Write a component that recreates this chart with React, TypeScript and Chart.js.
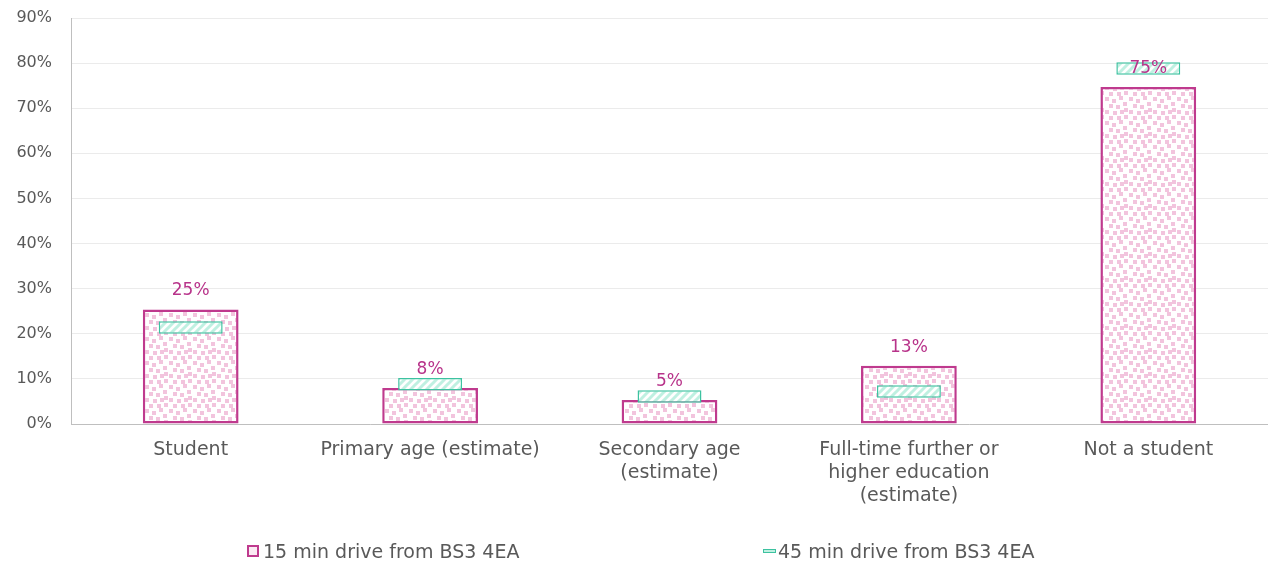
import React, { useEffect, useRef } from "react";
import { Chart, registerables } from "chart.js";

Chart.register(...registerables);

const categories: (string | string[])[] = [
  "Student",
  "Primary age (estimate)",
  ["Secondary age", "(estimate)"],
  ["Full-time further or", "higher education", "(estimate)"],
  "Not a student",
];
const series15: number[] = [25.4, 8.0, 5.3, 12.9, 74.7];
const series45: number[] = [21.4, 8.8, 6.1, 7.2, 78.8];
const seriesNames = ["15 min drive from BS3 4EA", "45 min drive from BS3 4EA"];
const yTicks: number[] = [0, 10, 20, 30, 40, 50, 60, 70, 80, 90];

const FONT = "'DejaVu Sans', sans-serif";
const GREY = "#595959";
const PINK = "#BF3A8E";
const PINK_LIGHT = "#F2C4DD";
const TEAL = "#3DC2A0";
const TEAL_LIGHT = "#BFF0E1";

function makeConfetti(): CanvasPattern | string {
  const c = document.createElement("canvas");
  c.width = 24;
  c.height = 24;
  const ctx = c.getContext("2d");
  if (!ctx) return PINK_LIGHT;
  ctx.fillStyle = "#ffffff";
  ctx.fillRect(0, 0, 24, 24);
  ctx.fillStyle = PINK_LIGHT;
  const spots = [
    [1, 1], [8, 3], [15, 0], [5, 8], [12, 9], [19, 6], [1, 14], [9, 15],
    [16, 14], [5, 20], [13, 20], [20, 12], [20, 19],
  ];
  spots.forEach(([x, y]) => ctx.fillRect(x, y, 4, 4));
  const p = ctx.createPattern(c, "repeat");
  return p || PINK_LIGHT;
}

function makeHatch(): CanvasPattern | string {
  const c = document.createElement("canvas");
  c.width = 8;
  c.height = 8;
  const ctx = c.getContext("2d");
  if (!ctx) return TEAL_LIGHT;
  ctx.fillStyle = "#ffffff";
  ctx.fillRect(0, 0, 8, 8);
  ctx.strokeStyle = TEAL_LIGHT;
  ctx.lineWidth = 3;
  ctx.beginPath();
  ctx.moveTo(-2, 10);
  ctx.lineTo(10, -2);
  ctx.moveTo(-6, 6);
  ctx.lineTo(6, -6);
  ctx.moveTo(2, 14);
  ctx.lineTo(14, 2);
  ctx.stroke();
  const p = ctx.createPattern(c, "repeat");
  return p || TEAL_LIGHT;
}

const labelPlugin = {
  id: "valueLabels",
  afterDatasetsDraw(chart: any) {
    const meta = chart.getDatasetMeta(0);
    const ctx = chart.ctx;
    ctx.save();
    ctx.fillStyle = "#B8338A";
    ctx.font = `17px ${FONT}`;
    ctx.textAlign = "center";
    ctx.textBaseline = "alphabetic";
    meta.data.forEach((el: any, i: number) => {
      ctx.fillText(Math.round(series15[i]) + "%", el.x, el.y - 14);
    });
    ctx.restore();
  },
};

export default function App() {
  const ref = useRef<HTMLCanvasElement | null>(null);

  useEffect(() => {
    document.body.style.margin = "0";
    if (!ref.current) return;
    const chart = new Chart(ref.current, {
      type: "bar",
      data: {
        labels: categories,
        datasets: [
          {
            label: seriesNames[0],
            data: series15,
            backgroundColor: makeConfetti() as any,
            borderColor: PINK,
            borderWidth: 2.5,
            borderSkipped: false,
            grouped: false,
            barPercentage: 0.4,
            categoryPercentage: 1,
            order: 2,
          },
          {
            label: seriesNames[1],
            data: series45.map((v) => [v - 1.4, v + 1.4]) as any,
            backgroundColor: makeHatch() as any,
            borderColor: TEAL,
            borderWidth: 1.5,
            borderSkipped: false,
            grouped: false,
            barPercentage: 0.267,
            categoryPercentage: 1,
            order: 1,
          },
        ],
      },
      options: {
        animation: false,
        responsive: false,
        maintainAspectRatio: false,
        layout: { padding: { top: 18, right: 0, bottom: 0, left: 0 } },
        plugins: {
          legend: { display: false },
          tooltip: { enabled: false },
          title: { display: false },
        },
        scales: {
          x: {
            grid: { display: false, drawTicks: false },
            border: { display: true, color: "#BFBFBF", width: 1 },
            ticks: {
              color: GREY,
              font: { family: FONT, size: 19, lineHeight: 1.2 },
              padding: 15,
              maxRotation: 0,
              autoSkip: false,
            },
            afterFit: (s: any) => {
              s.height = 139;
              s.paddingLeft = 0;
              s.paddingRight = 0;
            },
          },
          y: {
            min: 0,
            max: 90,
            afterBuildTicks: (s: any) => {
              s.ticks = yTicks.map((v) => ({ value: v }));
            },
            grid: { color: "#EBEBEB", drawTicks: false, lineWidth: 1 },
            border: { display: true, color: "#BFBFBF", width: 1 },
            ticks: {
              color: GREY,
              font: { family: FONT, size: 16 },
              padding: 19,
              callback: (v: any) => v + "%",
            },
            afterFit: (s: any) => {
              s.width = 71;
              s.paddingTop = 0;
              s.paddingBottom = 0;
            },
          },
        },
      },
      plugins: [labelPlugin],
    });
    return () => chart.destroy();
  }, []);

  return (
    <div style={{ position: "relative", width: 1268, height: 563, fontFamily: FONT }}>
      <canvas ref={ref} width={1268} height={563} style={{ display: "block" }} />
      <div
        style={{
          position: "absolute",
          left: 247,
          top: 545,
          width: 8,
          height: 8,
          border: `2px solid ${PINK}`,
          background: "#FBEAF3",
        }}
      />
      <div
        style={{
          position: "absolute",
          left: 263,
          top: 539,
          fontSize: 19,
          lineHeight: "24px",
          color: GREY,
          whiteSpace: "nowrap",
        }}
      >
        {seriesNames[0]}
      </div>
      <div
        style={{
          position: "absolute",
          left: 763,
          top: 549,
          width: 11,
          height: 2,
          border: `1px solid ${TEAL}`,
          background: TEAL_LIGHT,
        }}
      />
      <div
        style={{
          position: "absolute",
          left: 778,
          top: 539,
          fontSize: 19,
          lineHeight: "24px",
          color: GREY,
          whiteSpace: "nowrap",
        }}
      >
        {seriesNames[1]}
      </div>
    </div>
  );
}
